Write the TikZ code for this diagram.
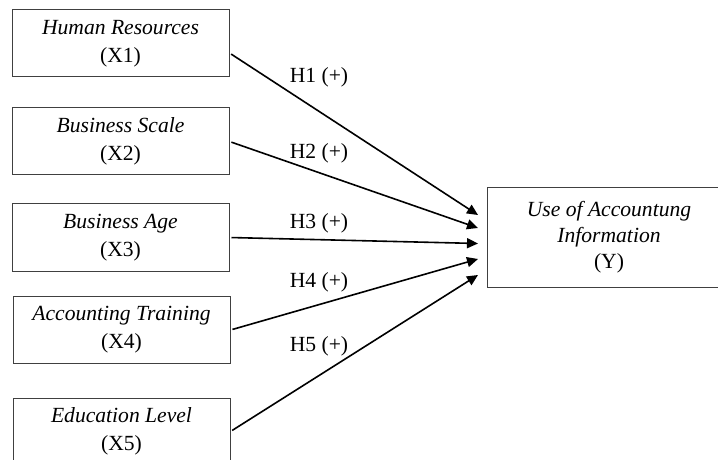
\documentclass[tikz,border=0pt]{standalone}
\usepackage{fontspec}
\setmainfont{Liberation Serif}
\usetikzlibrary{arrows.meta}

\begin{document}
\begin{tikzpicture}[x=0.5pt, y=-0.5pt,
	var/.style={draw=black!75, line width=0.5pt, minimum width=108.5pt, minimum height=33.5pt, inner sep=0pt, align=center, font=\fontsize{10.8}{14}\selectfont},
	hyp/.style={-{Triangle[length=5.5pt,width=5pt]}, line width=0.8pt, shorten <=1pt},
	lbl/.style={anchor=base, font=\fontsize{10.8}{12}\selectfont}]
	\useasboundingbox (0,0) rectangle (718,460);

	\node [var] (x1) at (120.5,43.5) {\textit{Human Resources}\\(X1)};
	\node [var] (x2) at (120.5,141.5) {\textit{Business Scale}\\(X2)};
	\node [var] (x3) at (120.5,237.5) {\textit{Business Age}\\(X3)};
	\node [var] (x4) at (121.5,330) {\textit{Accounting Training}\\(X4)};
	\node [var] (x5) at (121.5,431.5) {\textit{Education Level}\\(X5)};
	\node [var, minimum width=122pt, minimum height=49.5pt, font=\fontsize{10.8}{13}\selectfont] (y) at (609,237.5) {\textit{Use of Accountung}\\\textit{Information}\\(Y)};

	\coordinate (t1) at (478,215);
	\coordinate (t2) at (478,228);
	\coordinate (t3) at (478,243.5);
	\coordinate (t4) at (478,259);
	\coordinate (t5) at (478,275);

	\draw [hyp] ([yshift=-4.75pt]x1.east) -- (t1);
	\draw [hyp] (x2.east) -- (t2);
	\draw [hyp] (x3.east) -- (t3);
	\draw [hyp] (x4.east) -- (t4);
	\draw [hyp] (x5.east) -- (t5);

	\node [lbl] (h1) at (319,83) {H1 (+)};
	\node [lbl] (h2) at (319,159) {H2 (+)};
	\node [lbl] (h3) at (319,228) {H3 (+)};
	\node [lbl] (h4) at (319,287) {H4 (+)};
	\node [lbl] (h5) at (319,351) {H5 (+)};
\end{tikzpicture}
\end{document}
